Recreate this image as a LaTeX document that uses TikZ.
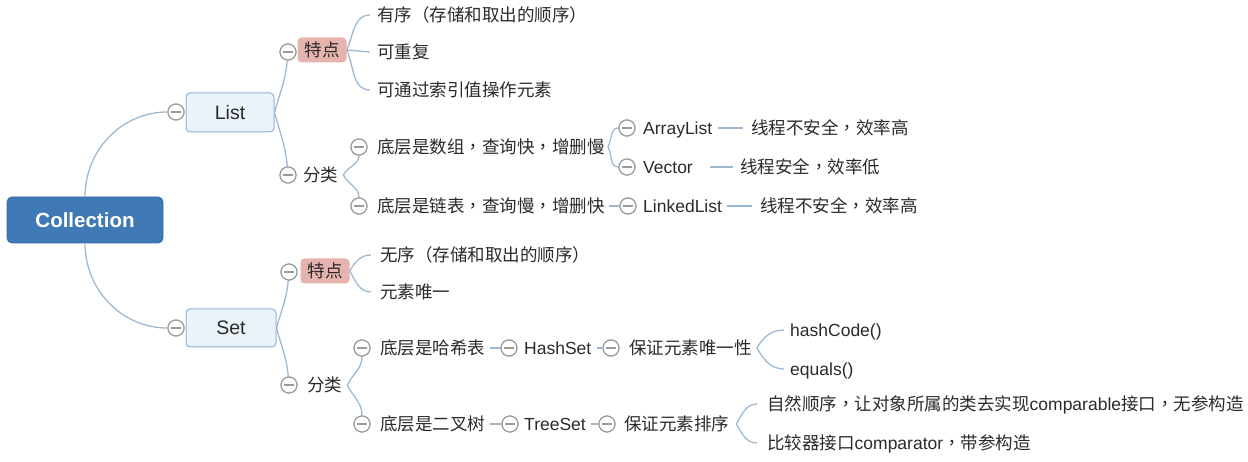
\documentclass[tikz,border=0pt]{standalone}
\usepackage{fontspec}
\setmainfont{Liberation Sans}
\newfontfamily\cjk{Noto Sans CJK SC}
\newfontfamily\cjktc{Noto Sans CJK TC}
\newcommand{\cm}{{\cjktc ，}}
\definecolor{conn}{HTML}{9DB9D4}
\definecolor{circg}{HTML}{9A9A9A}
\definecolor{txtc}{HTML}{2A2A2A}
\definecolor{collfill}{HTML}{3F7AB7}
\definecolor{collbord}{HTML}{3468A0}
\definecolor{boxfill}{HTML}{EAF2FA}
\definecolor{boxbord}{HTML}{8FB2D6}
\definecolor{pinkfill}{HTML}{E7B3AE}
\tikzset{
  txt/.style={font=\fontsize{17.5}{21}\selectfont, text=txtc, inner sep=0pt, anchor=west, text height=15.2pt, text depth=2pt},
  ctxt/.style={txt, font=\fontsize{17.5}{21}\selectfont\cjk},
  cline/.style={draw=conn, line width=1.3pt},
  fold/.style={circle, draw=circg, fill=white, line width=1.1pt, minimum size=16pt, inner sep=0pt,
    path picture={\draw[circg, line width=1.1pt] ([xshift=-5pt]path picture bounding box.center) -- ([xshift=5pt]path picture bounding box.center);}},
  mainbox/.style={rectangle, rounded corners=4pt, fill=boxfill, draw=boxbord, line width=1pt, inner sep=0pt,
    font=\fontsize{19.5}{22}\selectfont, text=txtc},
  pinkbox/.style={rectangle, rounded corners=4pt, fill=pinkfill, inner sep=0pt, minimum width=49pt, minimum height=25pt,
    font=\fontsize{17.5}{21}\selectfont\cjk, text=txtc, text height=15.2pt, text depth=2pt},
}
\begin{document}
\begin{tikzpicture}[x=1pt, y=-1pt]
\useasboundingbox (0,0) rectangle (1248,462);
% root
\node[rectangle, rounded corners=5pt, fill=collfill, draw=collbord, line width=0.8pt, minimum width=156pt, minimum height=46pt,
  font=\fontsize{20.5}{24}\selectfont\bfseries, text=white, inner sep=0pt] (coll) at (85,220) {Collection};
% main boxes
\node[mainbox, minimum width=88pt, minimum height=39pt] (list) at (230,112.5) {List};
\node[mainbox, minimum width=90pt, minimum height=38pt] (set) at (231,328) {Set};
% ---------- List subtree ----------
\node[pinkbox] (tdL) at (322,50) {特点};
\node[ctxt] (flL) at (303,175) {分类};
\node[ctxt] (l1) at (377,15) {有序（存储和取出的顺序）};
\node[ctxt] (l2) at (377,52) {可重复};
\node[ctxt] (l3) at (377,90) {可通过索引值操作元素};
\node[ctxt] (a1) at (377,147) {底层是数组\cm 查询快\cm 增删慢};
\node[ctxt] (a2) at (377,206) {底层是链表\cm 查询慢\cm 增删快};
\node[txt] (arr) at (643,128) {ArrayList};
\node[txt] (vec) at (643,167) {Vector};
\node[txt] (lnk) at (643,206) {LinkedList};
\node[ctxt] (arrL) at (751,128) {线程不安全\cm 效率高};
\node[ctxt] (vecL) at (740,167) {线程安全\cm 效率低};
\node[ctxt] (lnkL) at (760,206) {线程不安全\cm 效率高};
% ---------- Set subtree ----------
\node[pinkbox] (tdS) at (325,271) {特点};
\node[ctxt] (flS) at (307,385) {分类};
\node[ctxt] (s1) at (380,255) {无序（存储和取出的顺序）};
\node[ctxt] (s2) at (380,292) {元素唯一};
\node[ctxt] (h1) at (380,348) {底层是哈希表};
\node[txt] (hs) at (524,348) {HashSet};
\node[ctxt] (hg) at (629,348) {保证元素唯一性};
\node[txt] (hc) at (790,330) {hashCode()};
\node[txt] (eq) at (790,369) {equals()};
\node[ctxt] (t1) at (380,424) {底层是二叉树};
\node[txt] (ts) at (524,424) {TreeSet};
\node[ctxt] (tg) at (624,424) {保证元素排序};
\node[txt] (n1) at (767,404) {{\cjk 自然顺序}\cm{\cjk 让对象所属的类去实现}comparable{\cjk 接口}\cm{\cjk 无参构造}};
\node[txt] (n2) at (767,443) {{\cjk 比较器接口}comparator\cm{\cjk 带参构造}};
% fold circles
\node[fold] (cList) at (176,112) {};
\node[fold] (cSet) at (176,328) {};
\node[fold] (cTdL) at (288,52) {};
\node[fold] (cFlL) at (288,175) {};
\node[fold] (cA1) at (359,147) {};
\node[fold] (cA2) at (359,206) {};
\node[fold] (cArr) at (627,128) {};
\node[fold] (cVec) at (627,167) {};
\node[fold] (cLnk) at (628,206) {};
\node[fold] (cTdS) at (289,272) {};
\node[fold] (cFlS) at (289,385) {};
\node[fold] (cH1) at (362,348) {};
\node[fold] (cT1) at (362,424) {};
\node[fold] (cHs) at (509,348) {};
\node[fold] (cTs) at (510,424) {};
\node[fold] (cHg) at (611,348) {};
\node[fold] (cTg) at (607,424) {};
% connectors
\begin{scope}[cline]
\draw (coll.north) to[out=90,in=180] (cList);
\draw (coll.south) to[out=-90,in=180] (cSet);
\draw (list.east) to[out=75,in=-95] (cTdL);
\draw (list.east) to[out=-75,in=95] (cFlL);
\draw (tdL.east) to[out=65,in=180] ([xshift=-7pt]l1.west);
\draw (tdL.east) -- ([xshift=-7pt]l2.west);
\draw (tdL.east) to[out=-65,in=180] ([xshift=-7pt]l3.west);
\draw ([xshift=5pt]flL.east) to[out=65,in=-90] (cA1);
\draw ([xshift=5pt]flL.east) to[out=-65,in=90] (cA2);
\draw ([xshift=3pt]a1.east) to[out=60,in=180] (cArr);
\draw ([xshift=3pt]a1.east) to[out=-60,in=180] (cVec);
\draw ([xshift=4pt]a2.east) -- (cLnk);
\draw ([xshift=6pt]arr.east) -- ([xshift=-8pt]arrL.west);
\draw ([xshift=17pt]vec.east) -- ([xshift=-7pt]vecL.west);
\draw ([xshift=5pt]lnk.east) -- ([xshift=-8pt]lnkL.west);
\draw (set.east) to[out=75,in=-95] (cTdS);
\draw (set.east) to[out=-75,in=95] (cFlS);
\draw (tdS.east) to[out=60,in=180] ([xshift=-9pt]s1.west);
\draw (tdS.east) to[out=-60,in=180] ([xshift=-9pt]s2.west);
\draw ([xshift=5pt]flS.east) to[out=65,in=-90] (cH1);
\draw ([xshift=5pt]flS.east) to[out=-65,in=90] (cT1);
\draw ([xshift=5pt]h1.east) -- (cHs);
\draw ([xshift=5pt]hs.east) -- (cHg);
\draw ([xshift=5pt]t1.east) -- (cTs);
\draw ([xshift=5pt]ts.east) -- (cTg);
\draw ([xshift=5pt]hg.east) to[out=60,in=180] ([xshift=-6pt]hc.west);
\draw ([xshift=5pt]hg.east) to[out=-60,in=180] ([xshift=-6pt]eq.west);
\draw ([xshift=7pt]tg.east) to[out=60,in=180] ([xshift=-10pt]n1.west);
\draw ([xshift=7pt]tg.east) to[out=-60,in=180] ([xshift=-10pt]n2.west);
\end{scope}
% redraw circles on top
\foreach \c in {cList,cSet,cTdL,cFlL,cA1,cA2,cArr,cVec,cLnk,cTdS,cFlS,cH1,cT1,cHs,cTs,cHg,cTg}{
  \node[fold] at (\c) {};
}
\end{tikzpicture}
\end{document}
